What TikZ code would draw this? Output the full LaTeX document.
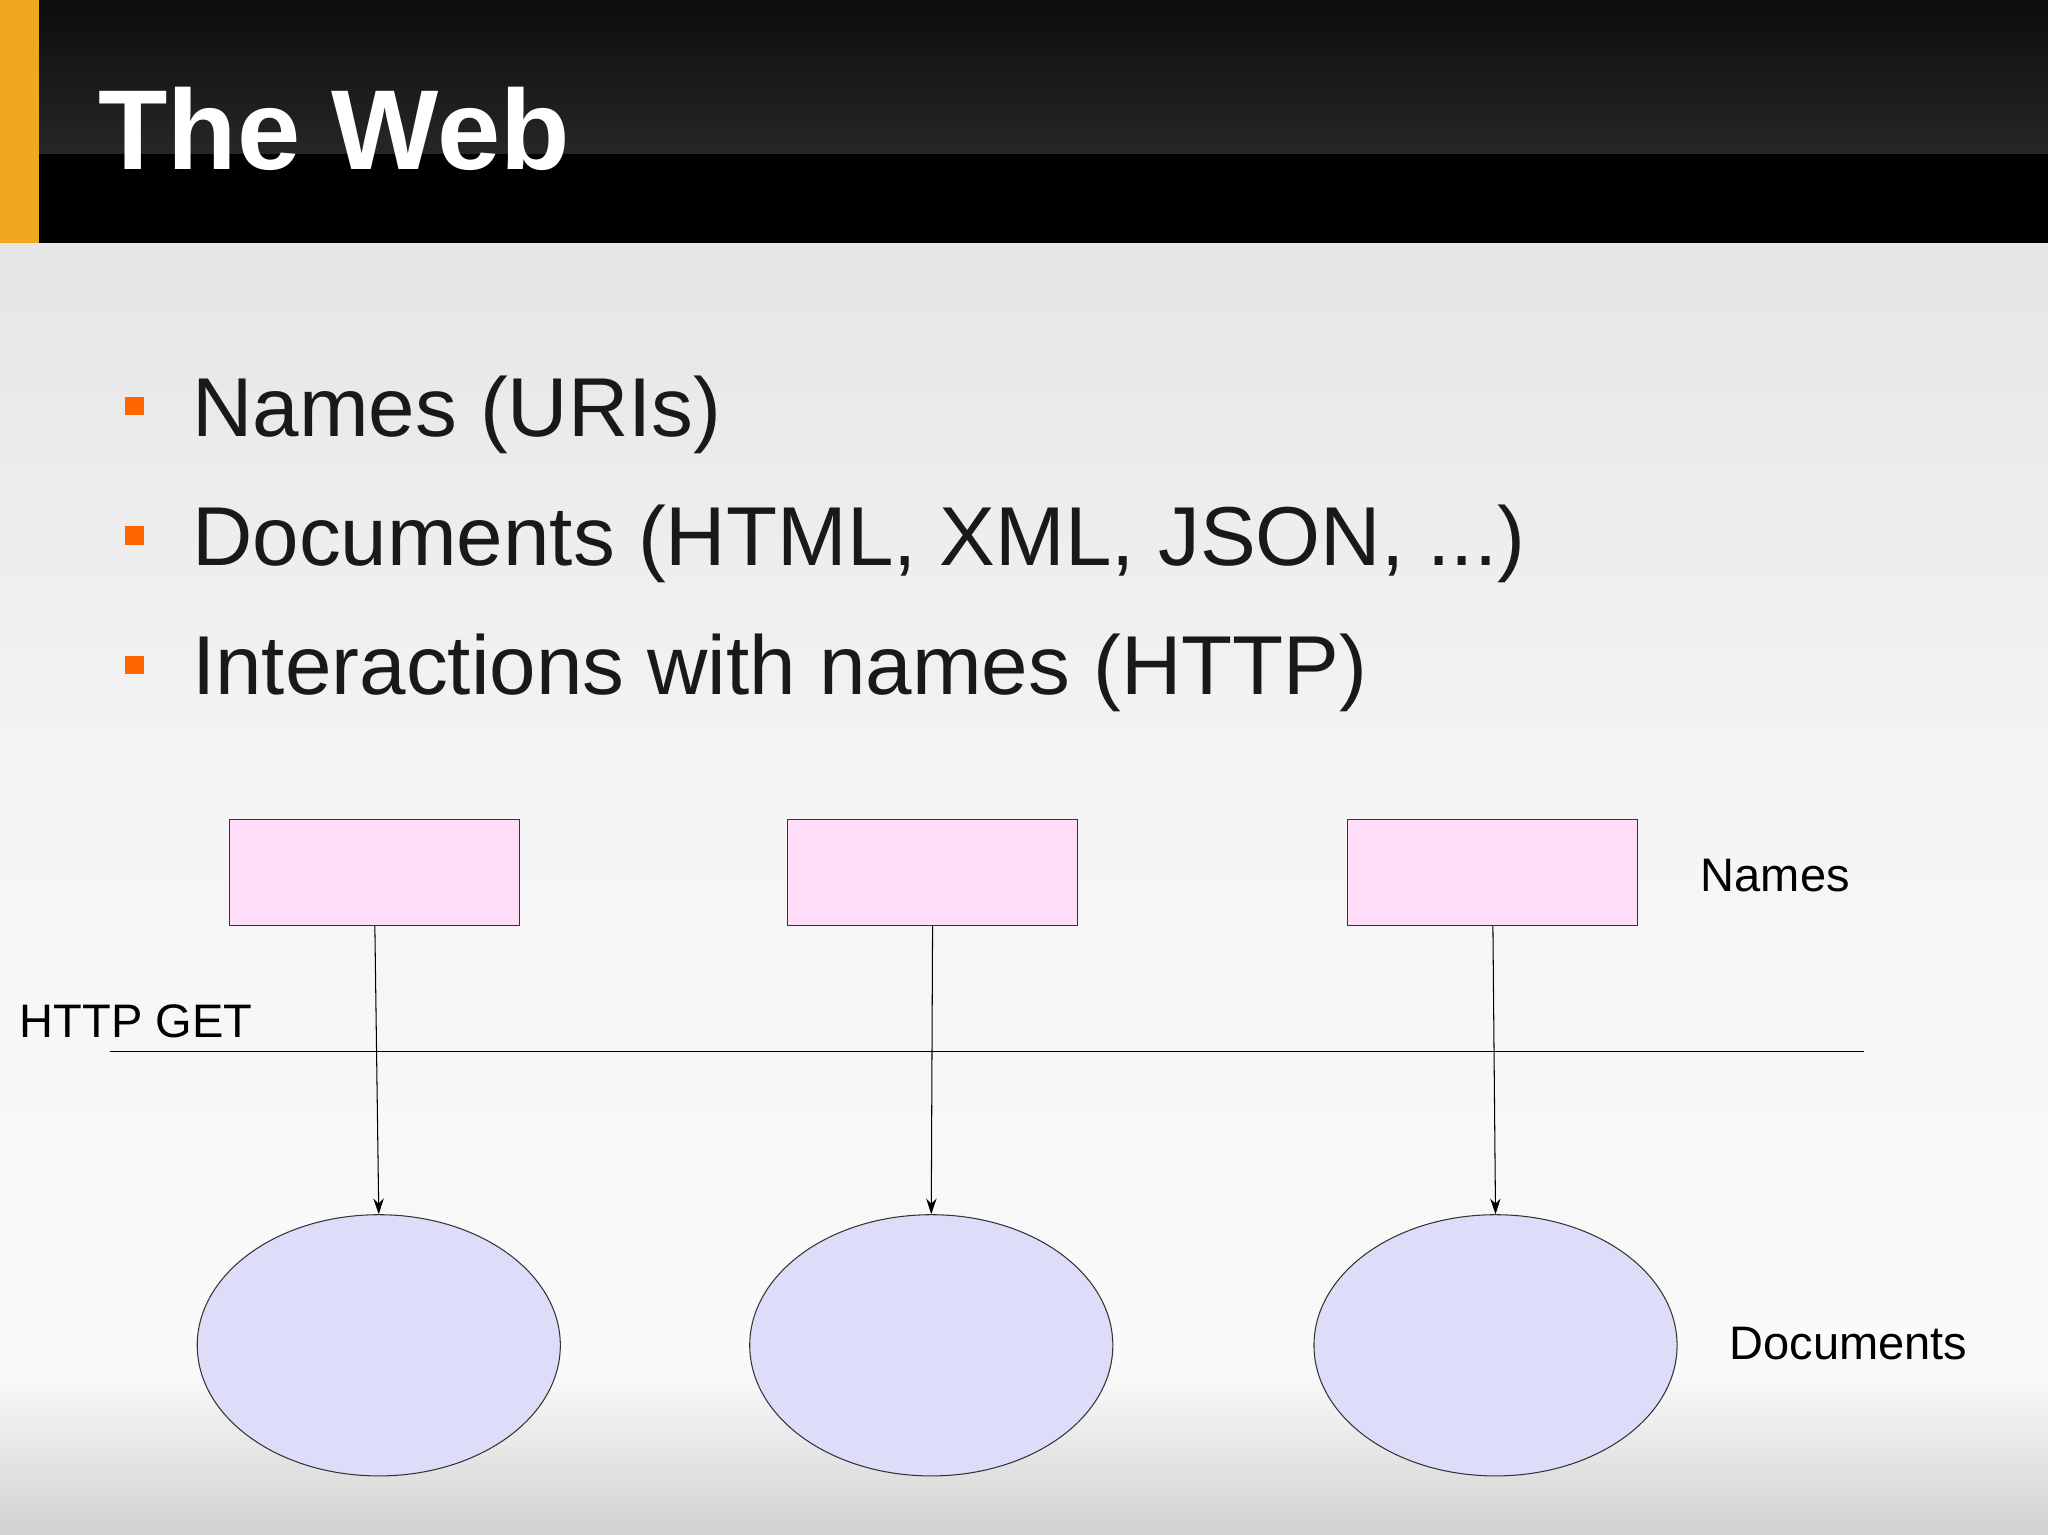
\documentclass[tikz,border=0pt]{standalone}
\usepackage{fontspec}
\setmainfont{Liberation Sans}
\usetikzlibrary{arrows.meta,shapes.geometric}
\definecolor{bulletc}{HTML}{FF6600}
\definecolor{namec}{HTML}{FFDDF9}
\definecolor{docc}{HTML}{DDDDFA}
\definecolor{stripc}{HTML}{F0A81E}
\tikzset{
  px/.style={x=1pt,y=-1pt},
  namebox/.style={draw=black!80,fill=namec,minimum width=222pt,minimum height=81pt,inner sep=0pt,line width=0.8pt},
  docell/.style={ellipse,draw=black!80,fill=docc,minimum width=278pt,minimum height=200pt,inner sep=0pt,line width=0.8pt},
  bul/.style={fill=bulletc,minimum size=14pt,inner sep=0pt},
  btext/.style={anchor=base west,font=\fontsize{64}{76}\selectfont,text=black!90,inner sep=0pt},
  lab/.style={font=\fontsize{36}{43}\selectfont,inner sep=0pt},
  con/.style={-{Stealth[length=12pt,width=8pt]},line width=0.8pt}
}
\begin{document}
\begin{tikzpicture}[px]
\useasboundingbox (0,0) rectangle (1568,1175);
\shade[top color=black!10,bottom color=black!2,middle color=black!4] (0,186) rectangle (1568,1050);
\shade[top color=black!2,bottom color=black!18] (0,1050) rectangle (1568,1175);
\shade[top color=black!95,bottom color=black!85] (0,0) rectangle (1568,118);
\fill[black] (0,118) rectangle (1568,186);
\fill[stripc] (0,0) rectangle (30,186);
\node[anchor=base west,text=white,font=\bfseries\fontsize{87}{100}\selectfont,inner sep=0pt] (title) at (75,130) {The Web};

\node[bul] (b1) at (103,311) {};
\node[btext] (t1) at (147,334) {Names (URIs)};
\node[bul] (b2) at (103,410) {};
\node[btext] (t2) at (147,433) {Documents (HTML, XML, JSON, ...)};
\node[bul] (b3) at (103,509) {};
\node[btext] (t3) at (147,532) {Interactions with names (HTTP)};

\node[namebox] (n1) at (287,668) {};
\node[namebox] (n2) at (714,668) {};
\node[namebox] (n3) at (1143,668) {};
\node[docell] (d1) at (290,1030) {};
\node[docell] (d2) at (713,1030) {};
\node[docell] (d3) at (1145,1030) {};
\draw[con] (n1.south) -- (d1.north);
\draw[con] (n2.south) -- (d2.north);
\draw[con] (n3.south) -- (d3.north);

\coordinate (la) at (84,805);
\coordinate (lb) at (1427,805);
\draw[line width=0.8pt] (la) -- (lb);
\node[lab,anchor=base west] (http) at (15,794) {HTTP GET};
\node[lab,anchor=west] (nl) at (1302,670) {Names};
\node[lab,anchor=west] (dl) at (1324,1029) {Documents};
\end{tikzpicture}
\end{document}
